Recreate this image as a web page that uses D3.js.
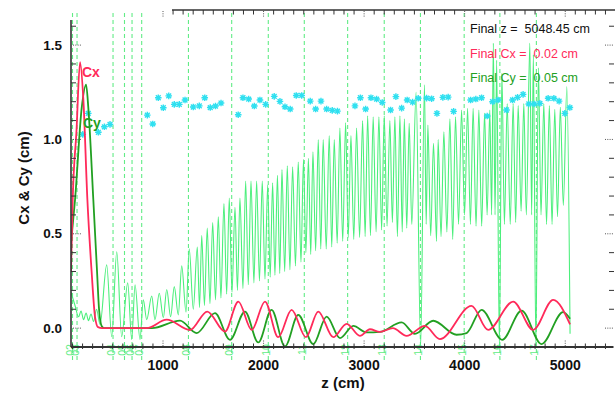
<!DOCTYPE html>
<html>
<head>
<meta charset="utf-8">
<script src="https://cdn.jsdelivr.net/npm/d3@7"></script>
<style>
  body { margin: 0; background: #fff; }
  svg { display: block; font-family: "Liberation Sans", Arial, sans-serif; }
</style>
</head>
<body>
<script>
// Cx (red) trace, z in cm
const cxZ = [85, 102, 140, 175, 208, 248, 290, 324, 354, 394, 838, 1037, 1268, 1440, 1616, 1749, 1882, 2014, 2146, 2279, 2421, 2544, 2693, 2826, 2958, 3058, 3157, 3286, 3422, 3604, 3753, 4068, 4233, 4482, 4681, 4880, 5048];
const cxV = [0.30, 0.68, 1.05, 1.41, 1.21, 0.68, 0.30, 0.06, 0.005, 0, 0, 0.045, -0.01, 0.088, -0.018, 0.141, -0.009, 0.141, -0.048, 0.097, -0.048, 0.088, -0.048, 0.023, -0.041, -0.006, -0.02, 0.0, -0.041, 0.012, -0.058, 0.118, -0.009, 0.141, -0.009, 0.15, 0.02];

// Cy (dark green) trace
const cyZ = [85, 125, 192, 235, 257, 307, 344, 364, 391, 414, 890, 1169, 1335, 1517, 1666, 1815, 1947, 2080, 2213, 2345, 2494, 2627, 2760, 2892, 3025, 3157, 3373, 3505, 3687, 3919, 4019, 4168, 4373, 4566, 4764, 4979, 5048];
const cyV = [0.45, 0.68, 1.17, 1.29, 1.17, 0.68, 0.30, 0.10, 0.01, 0, 0, 0.04, -0.026, 0.079, -0.062, 0.088, -0.076, 0.097, -0.097, 0.07, -0.085, 0.061, -0.053, 0.012, -0.023, -0.02, 0.03, -0.03, 0.039, -0.035, -0.026, 0.097, -0.062, 0.093, -0.085, 0.085, 0.05];

// light green trace (peaks and troughs)
const lgZ = [85, 125, 160, 185, 210, 235, 259, 284, 309, 339, 374, 440, 490, 540, 589, 649, 689, 722, 771, 804, 838, 888, 920, 963, 1003, 1037, 1076, 1112, 1152, 1186, 1229, 1261, 1301, 1341,
  1363, 1385, 1412, 1440, 1467, 1494, 1522, 1550, 1576, 1606, 1633, 1659, 1686, 1716, 1740, 1765, 1795, 1822, 1848, 1875, 1904, 1931, 1959, 1987, 2014, 2041, 2066, 2090, 2113, 2138, 2161, 2183, 2210, 2236, 2262, 2289, 2317, 2345, 2372, 2397, 2421, 2446, 2469, 2491, 2518, 2544, 2569, 2593, 2623, 2653, 2678, 2703, 2732, 2759, 2787, 2816, 2842, 2869, 2897, 2925, 2955, 2985, 3010, 3035, 3063, 3090, 3119, 3147, 3174, 3200, 3228, 3256, 3281, 3306, 3331, 3356, 3379, 3400, 3424, 3448, 3474, 3517, 3562, 3600,
  3617, 3634, 3662, 3690, 3720, 3736, 3765, 3793, 3823, 3853, 3881, 3909, 3939, 3969, 3999, 4029, 4057, 4084, 4113, 4141, 4169, 4198, 4223, 4250, 4268, 4285, 4302, 4318, 4345, 4370, 4395, 4423, 4453, 4482, 4507, 4532, 4561, 4588, 4613, 4648, 4666, 4683, 4708, 4733, 4759, 4787, 4814, 4842, 4869, 4896, 4923, 4951, 4981, 5016, 5048];
const lgV = [0.19, 0.12, 0.06, 0.09, 0.045, 0.08, 0.04, 0.075, 0.035, 0.10, 0.02, 0.335, -0.045, 0.405, -0.045, 0.24, -0.06, 0.23, -0.06, 0.15, 0.045, 0.17, 0.045, 0.185, 0.055, 0.205, 0.06, 0.22, 0.07, 0.33, 0.085, 0.42, 0.10, 0.43,
  0.11, 0.49, 0.12, 0.53, 0.13, 0.56, 0.15, 0.59, 0.16, 0.66, 0.18, 0.69, 0.19, 0.64, 0.20, 0.69, 0.21, 0.78, 0.23, 0.78, 0.24, 0.78, 0.25, 0.78, 0.26, 0.76, 0.27, 0.77, 0.28, 0.81, 0.29, 0.84, 0.30, 0.86, 0.31, 0.855, 0.33, 0.88, 0.35, 0.895, 0.40, 0.90, 0.39, 0.935, 0.41, 1.0, 0.42, 1.0, 0.42, 1.02, 0.43, 1.0, 0.45, 1.06, 0.46, 1.09, 0.48, 1.02, 0.47, 1.06, 0.48, 1.10, 0.485, 1.125, 0.49, 1.12, 0.51, 1.12, 0.52, 1.125, 0.54, 1.10, 0.56, 1.12, 0.485, 1.125, 0.51, 1.11, 0.53, 1.085, 0.55, 1.25, -0.1, 1.29,
  0.55, 1.076, 0.49, 0.98, 0.46, 1.0, 0.485, 1.04, 0.51, 1.11, 0.47, 1.12, 0.55, 1.156, 0.60, 1.165, 0.55, 1.165, 0.54, 1.156, 0.54, 1.14, 0.60, 1.156, 0.60, 1.51, 0.60, 1.42, -0.1, 1.35, 0.55, 1.19, 0.55, 1.19, 0.56, 1.18, 0.62, 1.19, 0.60, 1.51, 0.60, 1.45, -0.1, 1.38, 0.60, 1.19, 0.55, 1.18, 0.55, 1.16, 0.59, 1.17, 0.65, 1.28, -0.03];

// cyan stars
const starZ = [202, 257, 357, 417, 473, 844, 898, 953, 1003, 1057, 1112, 1162, 1219, 1301, 1361, 1415, 1470, 1522, 1577, 1748, 1795, 1852, 1908, 1964, 2021, 2106, 2163, 2213, 2265, 2325, 2379, 2464, 2518, 2571, 2627, 2683, 2735, 2909, 2963, 3015, 3068, 3124, 3180, 3263, 3316, 3373, 3428, 3482, 3538, 3621, 3671, 3724, 3783, 3836, 3890, 4059, 4111, 4168, 4224, 4277, 4333, 4416, 4476, 4526, 4581, 4638, 4691, 4748, 4830, 4887, 4939, 4996, 5046];
const starV = [1.027, 1.138, 1.038, 1.067, 1.080, 1.129, 1.082, 1.221, 1.168, 1.231, 1.186, 1.186, 1.209, 1.172, 1.178, 1.221, 1.169, 1.177, 1.193, 1.131, 1.221, 1.214, 1.177, 1.209, 1.186, 1.228, 1.202, 1.173, 1.161, 1.233, 1.233, 1.203, 1.161, 1.203, 1.161, 1.154, 1.150, 1.178, 1.221, 1.161, 1.221, 1.214, 1.196, 1.156, 1.227, 1.166, 1.209, 1.198, 1.218, 1.219, 1.216, 1.138, 1.223, 1.224, 1.149, 1.209, 1.214, 1.221, 1.124, 1.200, 1.209, 1.156, 1.209, 1.223, 1.239, 1.188, 1.188, 1.191, 1.218, 1.218, 1.203, 1.138, 1.169];

// lattice element markers
const elemZ = [100, 145, 503, 617, 692, 788, 1253, 1683, 2047, 2405, 2836, 3200, 3560, 3995, 4350, 4713];
const elemNames = ["02", "03", "04", "05", "06", "07", "08", "09", "10", "11", "12", "13", "14", "15", "16", "17"];

const xLabels = [1000, 2000, 3000, 4000, 5000];
const yLabels = [0.0, 0.5, 1.0, 1.5];

const finalLines = [
  { text: "Final z =  5048.45 cm", color: "#111" },
  { text: "Final Cx =  0.02 cm", color: "#ff2a5a" },
  { text: "Final Cy =  0.05 cm", color: "#22a022" }
];

const width = 615;
const height = 394;
const red = "#ff2a5a";
const dkGreen = "#22a022";
const ltGreen = "#4cef7c";
const dashGreen = "#62ec86";

const x = d3.scaleLinear().domain([85, 5475]).range([71, 613]);
const y = d3.scaleLinear().domain([-0.1, 1.633]).range([347, 20]);

const svg = d3.select("body").append("svg")
  .attr("width", width)
  .attr("height", height);

svg.append("clipPath").attr("id", "plot")
  .append("rect")
  .attr("x", x.range()[0]).attr("y", 0)
  .attr("width", x.range()[1] - x.range()[0])
  .attr("height", y.range()[0]);

// element dashed lines + labels
svg.append("g")
  .selectAll("line")
  .data(elemZ)
  .join("line")
  .attr("x1", d => x(d)).attr("x2", d => x(d))
  .attr("y1", y(1.67)).attr("y2", y(-0.17))
  .attr("stroke", dashGreen)
  .attr("stroke-width", 1.1)
  .attr("stroke-dasharray", "4,3");

svg.append("g")
  .selectAll("text")
  .data(elemZ)
  .join("text")
  .attr("transform", d => `translate(${x(d) + 1.5},${y(-0.085)}) rotate(-90)`)
  .attr("text-anchor", "end")
  .attr("font-size", 10.5)
  .attr("fill", dashGreen)
  .text((d, i) => elemNames[i]);

const plot = svg.append("g").attr("clip-path", "url(#plot)");

const lineOf = (zs, vs) => d3.line()
  .x(i => x(zs[i]))
  .y(i => y(vs[i]))
  .curve(d3.curveMonotoneX)(d3.range(zs.length));

plot.append("path")
  .attr("d", lineOf(lgZ, lgV))
  .attr("fill", "none")
  .attr("stroke", ltGreen)
  .attr("stroke-width", 1.1);

// asterisk markers
const star = "M-3.3,0H3.3M0,-3.3V3.3M-2.4,-2.4L2.4,2.4M-2.4,2.4L2.4,-2.4";
plot.append("g")
  .selectAll("path")
  .data(starZ)
  .join("path")
  .attr("transform", (d, i) => `translate(${x(d)},${y(starV[i])})`)
  .attr("d", star)
  .attr("stroke", "#2fe0f0")
  .attr("stroke-width", 1.4)
  .attr("fill", "none");

plot.append("path")
  .attr("d", lineOf(cyZ, cyV))
  .attr("fill", "none")
  .attr("stroke", dkGreen)
  .attr("stroke-width", 1.8);

plot.append("path")
  .attr("d", lineOf(cxZ, cxV))
  .attr("fill", "none")
  .attr("stroke", red)
  .attr("stroke-width", 1.8);

// axes
const axisCol = "#333";
const minorX = d3.range(100, 5475, 100).filter(d => d % 1000 !== 0);
const minorY = d3.range(-1, 17).map(d => d / 10).filter(d => Math.round(d * 10) % 5 !== 0);

const ax = svg.append("g").attr("stroke", axisCol);

// bottom
ax.append("line").attr("x1", 71).attr("x2", 613).attr("y1", 347).attr("y2", 347).attr("stroke-width", 2);
ax.selectAll(".bt").data(minorX).join("line").attr("class", "bt")
  .attr("x1", d => x(d)).attr("x2", d => x(d)).attr("y1", 343.5).attr("y2", 349).attr("stroke-width", 1);
ax.selectAll(".bM").data(xLabels).join("line").attr("class", "bM")
  .attr("x1", d => x(d)).attr("x2", d => x(d)).attr("y1", 340.5).attr("y2", 346)
  .attr("stroke-width", 1).attr("stroke-dasharray", "1,1.3").attr("stroke", "#555");

// top (partial)
ax.append("line").attr("x1", 172).attr("x2", 615).attr("y1", 10).attr("y2", 10).attr("stroke-width", 1.5);
ax.selectAll(".tt").data(minorX.filter(d => x(d) >= 171)).join("line").attr("class", "tt")
  .attr("x1", d => x(d)).attr("x2", d => x(d)).attr("y1", 10).attr("y2", 14.5).attr("stroke-width", 1);
ax.selectAll(".tM").data(xLabels).join("line").attr("class", "tM")
  .attr("x1", d => x(d)).attr("x2", d => x(d)).attr("y1", 11).attr("y2", 17)
  .attr("stroke-width", 1).attr("stroke-dasharray", "1,1.3").attr("stroke", "#555");

// left
ax.append("line").attr("x1", 71).attr("x2", 71).attr("y1", 20).attr("y2", 347).attr("stroke-width", 1.6);
ax.selectAll(".lt").data(minorY).join("line").attr("class", "lt")
  .attr("x1", 71).attr("x2", 76).attr("y1", d => y(d)).attr("y2", d => y(d)).attr("stroke-width", 1);
ax.selectAll(".lM").data(yLabels).join("line").attr("class", "lM")
  .attr("x1", 73).attr("x2", 81).attr("y1", d => y(d)).attr("y2", d => y(d))
  .attr("stroke-width", 1).attr("stroke-dasharray", "1,1.3").attr("stroke", "#555");

// right (ticks only)
ax.selectAll(".rt").data(minorY).join("line").attr("class", "rt")
  .attr("x1", 609).attr("x2", 614).attr("y1", d => y(d)).attr("y2", d => y(d)).attr("stroke-width", 1);
ax.selectAll(".rM").data(yLabels).join("line").attr("class", "rM")
  .attr("x1", 605).attr("x2", 613).attr("y1", d => y(d)).attr("y2", d => y(d))
  .attr("stroke-width", 1).attr("stroke-dasharray", "1,1.3").attr("stroke", "#555");

// tick labels
svg.append("g")
  .selectAll("text")
  .data(xLabels)
  .join("text")
  .attr("x", d => x(d)).attr("y", 370)
  .attr("text-anchor", "middle")
  .attr("font-size", 14).attr("font-weight", "bold").attr("fill", "#111")
  .text(d => d);

svg.append("g")
  .selectAll("text")
  .data(yLabels)
  .join("text")
  .attr("x", 62).attr("y", d => y(d) + 4.7)
  .attr("text-anchor", "end")
  .attr("font-size", 13.5).attr("font-weight", "bold").attr("fill", "#111")
  .text(d => d3.format(".1f")(d));

// titles
svg.append("text")
  .attr("x", 343).attr("y", 388)
  .attr("text-anchor", "middle")
  .attr("font-size", 15).attr("font-weight", "bold").attr("fill", "#111")
  .text("z (cm)");

svg.append("text")
  .attr("transform", "translate(29,178) rotate(-90)")
  .attr("text-anchor", "middle")
  .attr("font-size", 15).attr("font-weight", "bold").attr("fill", "#111")
  .text("Cx & Cy (cm)");

// curve labels
svg.append("text").attr("x", 82).attr("y", 77)
  .attr("font-size", 14).attr("font-weight", "bold").attr("fill", red).text("Cx");
svg.append("text").attr("x", 83).attr("y", 128)
  .attr("font-size", 14).attr("font-weight", "bold").attr("fill", dkGreen).text("Cy");

// final values
svg.append("g")
  .selectAll("text")
  .data(finalLines)
  .join("text")
  .attr("x", 470).attr("y", (d, i) => 33 + i * 24.5)
  .attr("font-size", 12.5)
  .attr("fill", d => d.color)
  .style("white-space", "pre")
  .text(d => d.text);
</script>
</body>
</html>
